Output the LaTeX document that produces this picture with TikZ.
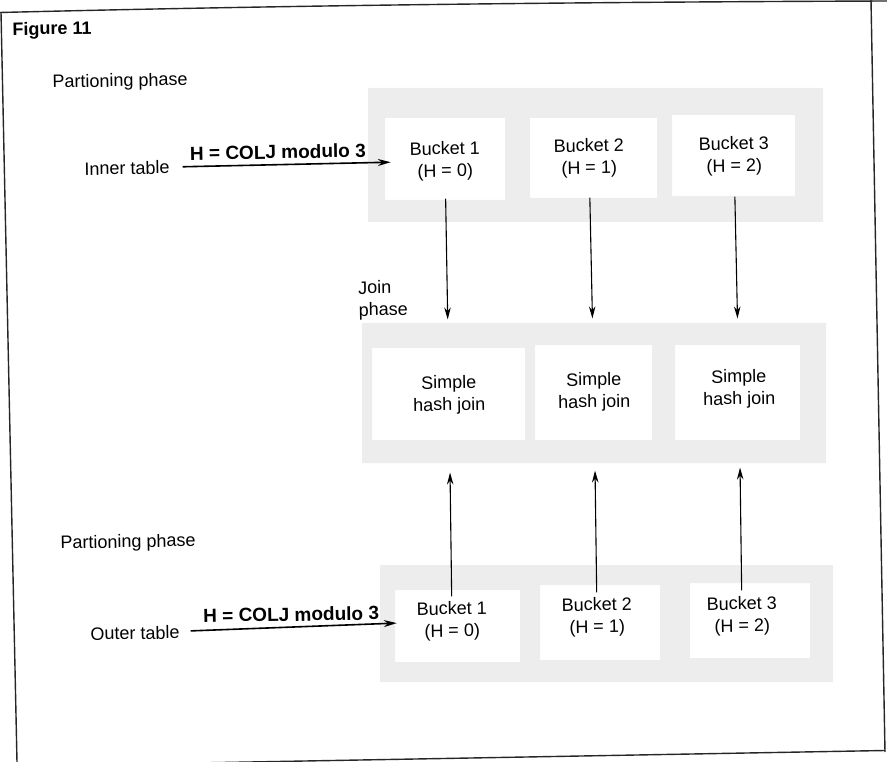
\documentclass[tikz,border=0pt]{standalone}
\usepackage{fontspec}
\setmainfont{Liberation Sans}
\usetikzlibrary{arrows.meta}
\begin{document}
\begin{tikzpicture}[x=1pt,y=-1pt,
  txt/.style={font=\fontsize{18}{22}\selectfont, align=center, inner sep=4pt, rotate=1},
  lbl/.style={font=\bfseries\fontsize{19}{22}\selectfont, inner sep=2pt, rotate=1},
  harr/.style={line width=1.6pt, -{Stealth[length=13pt,width=7pt]}},
  varr/.style={line width=1.1pt, -{Stealth[length=12pt,width=6.5pt]}},
  frameline/.style={line width=1.4pt, black!85},
  band/.style={fill=black!7, even odd rule, draw=none}]
\useasboundingbox (0,0) rectangle (887,762);
\begin{scope}
\clip (0,0) rectangle (887,762);
% shaded bands
\fill[band] (368,88) rectangle (823,222)
  (385,118) rectangle (505,200) (530,118) rectangle (657,198) (672,115) rectangle (795,196);
\fill[band] (362,323) rectangle (826,463)
  (372,348) rectangle (525,440) (535,345) rectangle (652,440) (675,345) rectangle (800,440);
\fill[band] (380,565) rectangle (833,682)
  (395,590) rectangle (520,662) (540,585) rectangle (660,660) (690,583) rectangle (810,658);
% frame
\draw[frameline] (1,12) -- (17,762);
\draw[frameline] (0,12.5) .. controls (300,5) and (600,2) .. (887,1);
\draw[frameline] (871,0) -- (885,752);
\draw[frameline] (200,762.9) -- (885,750.5);
\end{scope}
% texts
\node[txt, font=\bfseries\fontsize{18}{22}\selectfont] (fig) at (52,30) {Figure 11};
\node[txt] (pp1) at (120,82) {Partioning phase};
\node[txt] (inner) at (127,168) {Inner table};
\node[txt] (b1) at (445,161) {Bucket 1\\(H = 0)};
\node[txt] (b2) at (589,158) {Bucket 2\\(H = 1)};
\node[txt] (b3) at (734,156) {Bucket 3\\(H = 2)};
\node[txt, align=left] (jp) at (383,300) {Join\\phase};
\node[txt] (j1) at (449,395) {Simple\\hash join};
\node[txt] (j2) at (594,392) {Simple\\hash join};
\node[txt] (j3) at (739,389) {Simple\\hash join};
\node[txt] (pp2) at (128,543) {Partioning phase};
\node[txt] (outer) at (135,633) {Outer table};
\node[txt] (o1) at (452,621) {Bucket 1\\(H = 0)};
\node[txt] (o2) at (597,617) {Bucket 2\\(H = 1)};
\node[txt] (o3) at (742,616) {Bucket 3\\(H = 2)};
% partitioning arrows
\draw[harr, shorten <=9pt, shorten >=15pt] (inner) -- (b1)
  node[lbl, pos=.45, above=3pt] (h1) {H = COLJ modulo 3};
\draw[harr, shorten <=7pt, shorten >=16pt] (outer) -- (o1)
  node[lbl, pos=.47, above=3pt] (h2) {H = COLJ modulo 3};
% join arrows
\draw[varr, shorten <=14pt, shorten >=52pt] (b1) -- (j1);
\draw[varr, shorten <=16pt, shorten >=50pt] (b2) -- (j2);
\draw[varr, shorten <=17pt, shorten >=47pt] (b3) -- (j3);
\draw[varr, shorten <=1pt, shorten >=54pt] (o1) -- (j1);
\draw[varr, shorten <=1pt, shorten >=55pt] (o2) -- (j2);
\draw[varr, shorten <=2pt, shorten >=55pt] (o3) -- (j3);
\end{tikzpicture}
\end{document}
